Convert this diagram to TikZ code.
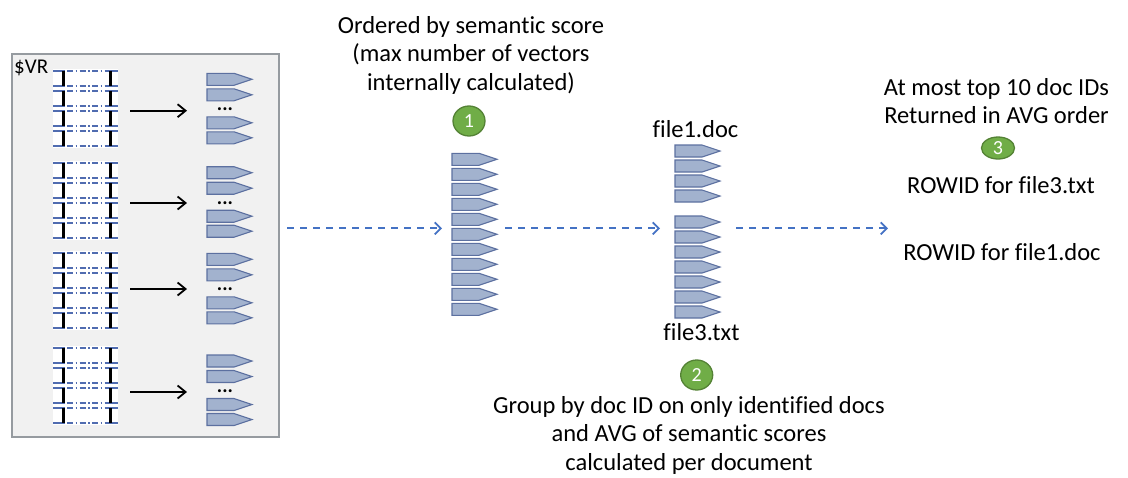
\documentclass[tikz,border=0pt]{standalone}
\usepackage{fontspec}
\setmainfont[Ligatures=NoCommon]{Carlito}
\definecolor{BoxFill}{RGB}{241,241,241}
\definecolor{BoxLine}{RGB}{150,155,160}
\definecolor{VecFill}{RGB}{162,178,206}
\definecolor{VecLine}{RGB}{92,112,160}
\definecolor{RowBlue}{RGB}{80,108,176}
\definecolor{FlowBlue}{RGB}{68,114,196}
\definecolor{BadgeFill}{RGB}{112,173,71}
\definecolor{BadgeLine}{RGB}{84,130,53}
\usetikzlibrary{
    arrows.meta,
    shapes.geometric,
}

\begin{document}
\begin{tikzpicture}[
    x=1pt, y=-1pt,
    vec/.style={fill=VecFill, draw=VecLine, line width=1.1pt},
    vecpic/.pic={\path[vec] (0,0) -- (27,0) -- (45,6) -- (27,12) -- (0,12) -- cycle;},
    tick/.style={RowBlue, line width=1.8pt},
    rowline/.style={RowBlue, line width=1.8pt, dash pattern=on 1.5pt off 2.5pt on 6pt off 2.5pt},
    bar/.style={black, line width=3pt},
    arr/.style={-{Straight Barb[length=8pt, width=13pt, line width=1.8pt]}, line width=1.9pt, black},
    flow/.style={-{Straight Barb[length=6pt, width=12pt, line width=1.8pt]}, line width=1.9pt, FlowBlue, dash pattern=on 7pt off 6pt},
    txt/.style={font=\fontsize{24.5}{28.5}\selectfont, align=center, inner sep=0pt},
    dotlbl/.style={font=\bfseries\fontsize{20}{20}\selectfont, anchor=base, inner sep=0pt},
    badge/.style={ellipse, draw=BadgeLine, fill=BadgeFill, line width=1.3pt, text=white,
        font=\fontsize{20}{20}\selectfont, inner sep=0pt, minimum width=32, minimum height=30}
]
    \useasboundingbox (0,0) rectangle (1128,477);

    % stored vectors
    \node[draw=BoxLine, fill=BoxFill, line width=1.3pt, minimum width=267, minimum height=383, inner sep=0pt] (vrbox) at (145.5,245.5) {};
    \node[font=\fontsize{21}{21}\selectfont, anchor=base west, inner sep=0pt] (vrlbl) at (14,73) {\$VR};
    \foreach \yb/\yp/\ya [count=\i] in {70.7/73.3/110.7, 162.7/166.7/203, 252.7/253.3/289, 348.3/355/392} {
        \fill[white] (53,\yb-2) rectangle (118,\yb+77);
        \foreach \r in {0,20,40,60} {
            \foreach \h in {0,15} {
                \draw[tick] (53,\yb+\r+\h) -- (63,\yb+\r+\h) (110,\yb+\r+\h) -- (118,\yb+\r+\h);
                \draw[rowline] (63,\yb+\r+\h) -- (110,\yb+\r+\h);
            }
            \draw[bar] (63,\yb+\r) -- (63,\yb+\r+15) (110,\yb+\r) -- (110,\yb+\r+15);
        }
        \foreach \o in {0,15.5,43.5,58.5}
            \pic at (207,\yp+\o) {vecpic};
        \node[dotlbl] (dots\i) at (225,\yp+37.5) {...};
        \coordinate (src\i) at (130,\ya);
        \coordinate (dst\i) at (187,\ya);
        \draw[arr] (src\i) -- (dst\i);
    }

    % ranked vectors
    \foreach \k in {0,...,10}
        \pic at (452,153.3+15*\k) {vecpic};
    \node[badge] (n1) at (469,121) {1};
    \node[txt] (ordlbl) at (471,55) {Ordered by semantic score\\(max number of vectors\\internally calculated)};

    % grouped by document
    \foreach \k in {0,...,3}
        \pic at (675,145+15*\k) {vecpic};
    \foreach \k in {0,...,6}
        \pic at (675,216+15*\k) {vecpic};
    \node[txt, anchor=base] (file1) at (695.5,137) {file1.doc};
    \node[txt, anchor=base] (file3) at (701.5,340) {file3.txt};
    \node[badge] (n2) at (696.7,375) {2};
    \node[txt] (grplbl) at (689,435) {Group by doc ID on only identified docs\\and AVG of semantic scores\\calculated per document};

    % result
    \node[txt] (toplbl) at (996.5,101) {At most top 10 doc IDs\\Returned in AVG order};
    \node[badge, minimum width=33, minimum height=22] (n3) at (998,148) {3};
    \node[txt, anchor=base] (row3) at (1001,193) {ROWID for file3.txt};
    \node[txt, anchor=base] (row1) at (1002,260) {ROWID for file1.doc};

    % flow
    \coordinate (f1s) at (287,228.3);
    \coordinate (f1e) at (442,228.3);
    \coordinate (f2s) at (505,228.3);
    \coordinate (f2e) at (660,228.3);
    \coordinate (f3s) at (736,228.3);
    \coordinate (f3e) at (888,228.3);
    \draw[flow] (f1s) -- (f1e);
    \draw[flow] (f2s) -- (f2e);
    \draw[flow] (f3s) -- (f3e);
\end{tikzpicture}
\end{document}
